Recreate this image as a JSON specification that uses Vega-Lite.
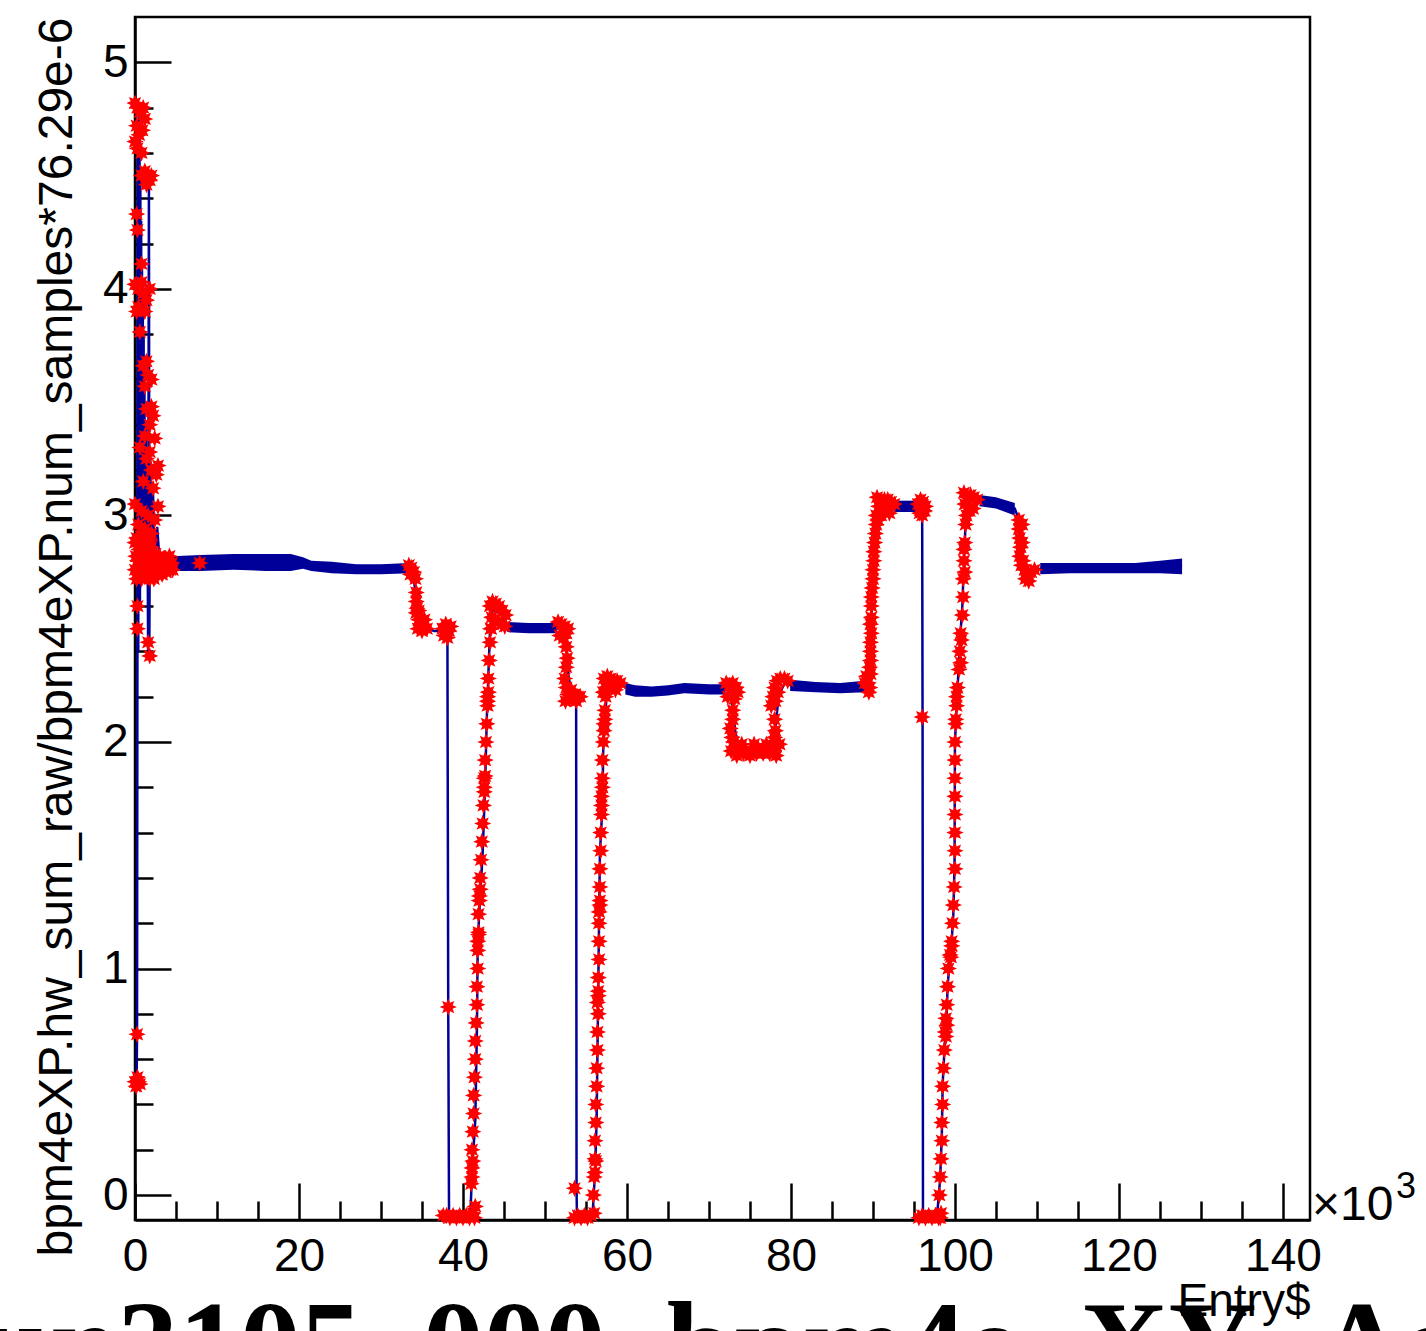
{
  "$schema": "https://vega.github.io/schema/vega-lite/v6.json",
  "width": 1175,
  "height": 1203,
  "autosize": {"type": "none"},
  "padding": {"left": 135, "top": 17, "right": 116, "bottom": 111},
  "background": "white",
  "config": {"view": {"stroke": "black", "strokeWidth": 2.5}, "font": "Liberation Sans"},
  "title": {"text": "run3105_000_bpm4e_XY_Asym", "orient": "bottom", "anchor": "start", "frame": "group", "font": "Liberation Serif", "fontSize": 122, "fontWeight": "bold", "color": "black", "baseline": "alphabetic", "offset": 62, "dx": -207},
  "datasets": {
    "band": [
      {"seg": 1, "entry": 4.5, "lo": 2.755, "hi": 2.82}, {"seg": 1, "entry": 8, "lo": 2.755, "hi": 2.825}, {"seg": 1, "entry": 12, "lo": 2.76, "hi": 2.83}, {"seg": 1, "entry": 16, "lo": 2.755, "hi": 2.83}, {"seg": 1, "entry": 19, "lo": 2.755, "hi": 2.83}, {"seg": 1, "entry": 20.5, "lo": 2.765, "hi": 2.815}, {"seg": 1, "entry": 21.5, "lo": 2.755, "hi": 2.8}, {"seg": 1, "entry": 24, "lo": 2.745, "hi": 2.795}, {"seg": 1, "entry": 27, "lo": 2.74, "hi": 2.785}, {"seg": 1, "entry": 30, "lo": 2.74, "hi": 2.785}, {"seg": 1, "entry": 33.5, "lo": 2.745, "hi": 2.79},
      {"seg": 2, "entry": 45.4, "lo": 2.485, "hi": 2.53}, {"seg": 2, "entry": 48, "lo": 2.48, "hi": 2.525}, {"seg": 2, "entry": 51.5, "lo": 2.48, "hi": 2.525},
      {"seg": 3, "entry": 59.8, "lo": 2.21, "hi": 2.26}, {"seg": 3, "entry": 61, "lo": 2.2, "hi": 2.25}, {"seg": 3, "entry": 63, "lo": 2.2, "hi": 2.245}, {"seg": 3, "entry": 65, "lo": 2.205, "hi": 2.25}, {"seg": 3, "entry": 67, "lo": 2.215, "hi": 2.26}, {"seg": 3, "entry": 70, "lo": 2.21, "hi": 2.255}, {"seg": 3, "entry": 72, "lo": 2.21, "hi": 2.255},
      {"seg": 4, "entry": 79.9, "lo": 2.225, "hi": 2.275}, {"seg": 4, "entry": 83, "lo": 2.22, "hi": 2.265}, {"seg": 4, "entry": 86, "lo": 2.215, "hi": 2.26}, {"seg": 4, "entry": 89, "lo": 2.22, "hi": 2.27},
      {"seg": 5, "entry": 92.7, "lo": 3.015, "hi": 3.065}, {"seg": 5, "entry": 95.4, "lo": 3.015, "hi": 3.065},
      {"seg": 6, "entry": 103, "lo": 3.04, "hi": 3.09}, {"seg": 6, "entry": 105, "lo": 3.03, "hi": 3.08}, {"seg": 6, "entry": 107.3, "lo": 3.0, "hi": 3.055},
      {"seg": 7, "entry": 110.4, "lo": 2.74, "hi": 2.79}, {"seg": 7, "entry": 114, "lo": 2.745, "hi": 2.79}, {"seg": 7, "entry": 118, "lo": 2.745, "hi": 2.79}, {"seg": 7, "entry": 122, "lo": 2.745, "hi": 2.79}, {"seg": 7, "entry": 125, "lo": 2.745, "hi": 2.8}, {"seg": 7, "entry": 127.7, "lo": 2.74, "hi": 2.81}
    ],
    "series": [
      {"entry": 0.0, "value": 0.5}, {"entry": 0.1, "value": 0.49}, {"entry": 0.2, "value": 0.51}, {"entry": 0.25, "value": 0.71}, {"entry": 0.3, "value": 2.6}, {"entry": 0.35, "value": 4.6}, {"entry": 0.4, "value": 2.4}, {"entry": 0.45, "value": 4.82}, {"entry": 0.5, "value": 2.9}, {"entry": 0.55, "value": 4.7}, {"entry": 0.6, "value": 2.6}, {"entry": 0.65, "value": 4.5}, {"entry": 0.7, "value": 2.8}, {"entry": 0.75, "value": 4.3}, {"entry": 0.8, "value": 2.7}, {"entry": 0.85, "value": 4.1}, {"entry": 0.9, "value": 2.9}, {"entry": 0.95, "value": 3.95}, {"entry": 1.0, "value": 2.75}, {"entry": 1.05, "value": 3.8}, {"entry": 1.1, "value": 2.8}, {"entry": 1.15, "value": 3.6}, {"entry": 1.2, "value": 2.7}, {"entry": 1.3, "value": 3.4}, {"entry": 1.4, "value": 2.8}, {"entry": 1.5, "value": 3.2}, {"entry": 1.6, "value": 2.4}, {"entry": 1.7, "value": 4.5}, {"entry": 1.75, "value": 2.45}, {"entry": 1.85, "value": 3.3}, {"entry": 2.0, "value": 2.8}, {"entry": 2.2, "value": 3.1}, {"entry": 2.4, "value": 2.78}, {"entry": 2.7, "value": 2.95}, {"entry": 3.0, "value": 2.8}, {"entry": 3.5, "value": 2.78}, {"entry": 4.0, "value": 2.8}, {"entry": 4.5, "value": 2.79},
      {"entry": 8, "value": 2.79}, {"entry": 12, "value": 2.795}, {"entry": 16, "value": 2.79}, {"entry": 20, "value": 2.79}, {"entry": 21.5, "value": 2.78}, {"entry": 23, "value": 2.77}, {"entry": 27, "value": 2.765}, {"entry": 31, "value": 2.76}, {"entry": 33.5, "value": 2.765},
      {"entry": 33.7, "value": 2.77}, {"entry": 34.0, "value": 2.72}, {"entry": 34.2, "value": 2.66}, {"entry": 34.4, "value": 2.6}, {"entry": 34.6, "value": 2.55}, {"entry": 35.0, "value": 2.52}, {"entry": 35.6, "value": 2.5}, {"entry": 36.5, "value": 2.49}, {"entry": 37.4, "value": 2.49}, {"entry": 38.1, "value": 2.5}, {"entry": 38.2, "value": 0.83}, {"entry": 38.3, "value": -0.1}, {"entry": 39, "value": -0.1}, {"entry": 40, "value": -0.1}, {"entry": 40.9, "value": -0.09},
      {"entry": 41.1, "value": 0.1}, {"entry": 41.5, "value": 0.33}, {"entry": 41.7, "value": 0.73}, {"entry": 41.8, "value": 1.12}, {"entry": 42.1, "value": 1.32}, {"entry": 42.4, "value": 1.51}, {"entry": 42.7, "value": 1.81}, {"entry": 42.9, "value": 2.1}, {"entry": 43.0, "value": 2.2}, {"entry": 43.3, "value": 2.5}, {"entry": 43.6, "value": 2.58}, {"entry": 44.5, "value": 2.57}, {"entry": 45.4, "value": 2.52},
      {"entry": 48, "value": 2.505}, {"entry": 51.5, "value": 2.5},
      {"entry": 52.0, "value": 2.51}, {"entry": 52.6, "value": 2.45}, {"entry": 52.7, "value": 2.37}, {"entry": 52.9, "value": 2.28}, {"entry": 53.3, "value": 2.22}, {"entry": 53.6, "value": 2.2}, {"entry": 53.8, "value": 2.21}, {"entry": 53.85, "value": 0.03}, {"entry": 53.9, "value": -0.1}, {"entry": 55, "value": -0.1}, {"entry": 55.8, "value": -0.09},
      {"entry": 56.1, "value": 0.1}, {"entry": 56.3, "value": 0.33}, {"entry": 56.4, "value": 0.63}, {"entry": 56.5, "value": 0.92}, {"entry": 56.6, "value": 1.22}, {"entry": 56.7, "value": 1.51}, {"entry": 57.0, "value": 1.71}, {"entry": 57.1, "value": 1.96}, {"entry": 57.3, "value": 2.1}, {"entry": 57.6, "value": 2.24}, {"entry": 58, "value": 2.27}, {"entry": 59, "value": 2.26}, {"entry": 59.8, "value": 2.24},
      {"entry": 61, "value": 2.225}, {"entry": 63, "value": 2.22}, {"entry": 65, "value": 2.225}, {"entry": 67, "value": 2.235}, {"entry": 70, "value": 2.235}, {"entry": 72, "value": 2.23},
      {"entry": 72.5, "value": 2.24}, {"entry": 72.9, "value": 2.14}, {"entry": 73.2, "value": 2.05}, {"entry": 73.6, "value": 1.98}, {"entry": 75, "value": 1.96}, {"entry": 77, "value": 1.97}, {"entry": 78, "value": 1.98}, {"entry": 78.2, "value": 2.1}, {"entry": 78.5, "value": 2.2}, {"entry": 79.2, "value": 2.26}, {"entry": 80, "value": 2.25},
      {"entry": 82, "value": 2.25}, {"entry": 85, "value": 2.24}, {"entry": 87, "value": 2.245}, {"entry": 89, "value": 2.25},
      {"entry": 89.3, "value": 2.27}, {"entry": 89.6, "value": 2.35}, {"entry": 89.7, "value": 2.42}, {"entry": 89.8, "value": 2.5}, {"entry": 89.85, "value": 2.6}, {"entry": 90.0, "value": 2.72}, {"entry": 90.2, "value": 2.85}, {"entry": 90.4, "value": 2.96}, {"entry": 90.8, "value": 3.03}, {"entry": 91.5, "value": 3.05}, {"entry": 92.7, "value": 3.04},
      {"entry": 94.0, "value": 3.04}, {"entry": 95.5, "value": 3.05}, {"entry": 96.0, "value": 3.05}, {"entry": 96.05, "value": 2.11}, {"entry": 96.1, "value": -0.1}, {"entry": 97, "value": -0.1}, {"entry": 97.8, "value": -0.1},
      {"entry": 98.2, "value": 0.075}, {"entry": 98.4, "value": 0.27}, {"entry": 98.5, "value": 0.49}, {"entry": 98.8, "value": 0.7}, {"entry": 99.0, "value": 0.81}, {"entry": 99.1, "value": 0.92}, {"entry": 99.4, "value": 1.05}, {"entry": 99.6, "value": 1.12}, {"entry": 99.8, "value": 1.24}, {"entry": 99.95, "value": 1.46}, {"entry": 100.0, "value": 2.0}, {"entry": 100.2, "value": 2.15}, {"entry": 100.6, "value": 2.44}, {"entry": 100.9, "value": 2.6}, {"entry": 101.1, "value": 2.8}, {"entry": 101.3, "value": 2.97}, {"entry": 101.7, "value": 3.06}, {"entry": 103, "value": 3.07},
      {"entry": 104, "value": 3.06}, {"entry": 105, "value": 3.055}, {"entry": 106, "value": 3.04}, {"entry": 107.3, "value": 3.03},
      {"entry": 107.8, "value": 2.98}, {"entry": 108.0, "value": 2.88}, {"entry": 108.3, "value": 2.8}, {"entry": 108.8, "value": 2.75}, {"entry": 109.5, "value": 2.755}, {"entry": 110.4, "value": 2.765},
      {"entry": 113, "value": 2.765}, {"entry": 117, "value": 2.77}, {"entry": 121, "value": 2.765}, {"entry": 124, "value": 2.77}, {"entry": 126, "value": 2.775}, {"entry": 127.7, "value": 2.78}
    ],
    "stars": [
      {"entry": 0.0, "value": 0.5}, {"entry": 0.15, "value": 0.48}, {"entry": 0.3, "value": 0.52}, {"entry": 0.45, "value": 0.5}, {"entry": 0.6, "value": 0.49}, {"entry": 0.25, "value": 0.71},
      {"entry": 0.0, "value": 4.82}, {"entry": 0.3, "value": 4.8}, {"entry": 0.6, "value": 4.78}, {"entry": 1.0, "value": 4.8}, {"entry": 0.2, "value": 4.72}, {"entry": 0.5, "value": 4.68}, {"entry": 1.2, "value": 4.75}, {"entry": 0.3, "value": 4.62}, {"entry": 0.8, "value": 4.6}, {"entry": 0.0, "value": 4.65}, {"entry": 0.9, "value": 4.7},
      {"entry": 0.8, "value": 4.5}, {"entry": 1.2, "value": 4.52}, {"entry": 1.6, "value": 4.5}, {"entry": 2.0, "value": 4.5}, {"entry": 1.4, "value": 4.46}, {"entry": 1.8, "value": 4.48},
      {"entry": 0.2, "value": 4.33}, {"entry": 0.3, "value": 4.26}, {"entry": 0.8, "value": 4.11},
      {"entry": 0.0, "value": 4.02}, {"entry": 0.4, "value": 4.0}, {"entry": 1.0, "value": 3.98}, {"entry": 1.8, "value": 4.0}, {"entry": 0.4, "value": 3.92}, {"entry": 1.4, "value": 3.95}, {"entry": 0.2, "value": 3.9}, {"entry": 0.8, "value": 4.03}, {"entry": 1.2, "value": 3.9},
      {"entry": 0.6, "value": 3.81},
      {"entry": 1.0, "value": 3.66}, {"entry": 1.6, "value": 3.62}, {"entry": 2.0, "value": 3.6}, {"entry": 1.2, "value": 3.57}, {"entry": 1.4, "value": 3.68},
      {"entry": 1.4, "value": 3.47}, {"entry": 2.2, "value": 3.44}, {"entry": 1.8, "value": 3.4}, {"entry": 1.2, "value": 3.35}, {"entry": 2.4, "value": 3.34}, {"entry": 2.0, "value": 3.48},
      {"entry": 0.6, "value": 3.3}, {"entry": 1.4, "value": 3.25}, {"entry": 2.0, "value": 3.2}, {"entry": 2.6, "value": 3.18}, {"entry": 1.0, "value": 3.15}, {"entry": 2.2, "value": 3.12}, {"entry": 1.8, "value": 3.28}, {"entry": 2.8, "value": 3.22},
      {"entry": 0.0, "value": 3.05}, {"entry": 0.8, "value": 3.02}, {"entry": 1.6, "value": 3.0}, {"entry": 2.4, "value": 2.98}, {"entry": 1.2, "value": 2.94}, {"entry": 2.0, "value": 2.92}, {"entry": 0.4, "value": 2.96}, {"entry": 2.8, "value": 3.04},
      {"entry": 0.0, "value": 2.88}, {"entry": 0.5, "value": 2.85}, {"entry": 1.0, "value": 2.88}, {"entry": 1.5, "value": 2.84}, {"entry": 2.0, "value": 2.86}, {"entry": 2.5, "value": 2.83}, {"entry": 3.0, "value": 2.82}, {"entry": 3.5, "value": 2.8}, {"entry": 4.0, "value": 2.8}, {"entry": 4.5, "value": 2.79}, {"entry": 0.0, "value": 2.76}, {"entry": 0.5, "value": 2.74}, {"entry": 1.0, "value": 2.78}, {"entry": 1.5, "value": 2.73}, {"entry": 2.0, "value": 2.76}, {"entry": 2.5, "value": 2.75}, {"entry": 3.0, "value": 2.77}, {"entry": 3.5, "value": 2.76}, {"entry": 4.0, "value": 2.78}, {"entry": 0.3, "value": 2.8}, {"entry": 1.2, "value": 2.81}, {"entry": 2.2, "value": 2.8}, {"entry": 3.2, "value": 2.79},
      {"entry": 0.2, "value": 2.9}, {"entry": 0.7, "value": 2.91}, {"entry": 1.3, "value": 2.9}, {"entry": 1.8, "value": 2.89}, {"entry": 0.2, "value": 2.72}, {"entry": 0.8, "value": 2.72}, {"entry": 1.3, "value": 2.76}, {"entry": 1.8, "value": 2.72}, {"entry": 2.3, "value": 2.72}, {"entry": 2.8, "value": 2.74}, {"entry": 3.3, "value": 2.74}, {"entry": 3.8, "value": 2.75}, {"entry": 4.3, "value": 2.76}, {"entry": 2.7, "value": 2.8}, {"entry": 3.7, "value": 2.81}, {"entry": 4.2, "value": 2.82}, {"entry": 0.7, "value": 2.8}, {"entry": 1.7, "value": 2.8}, {"entry": 0.1, "value": 2.82}, {"entry": 4.6, "value": 2.76},
      {"entry": 7.9, "value": 2.79},
      {"entry": 0.3, "value": 2.6}, {"entry": 0.3, "value": 2.5}, {"entry": 1.6, "value": 2.44}, {"entry": 1.8, "value": 2.38},
      {"entry": 33.4, "value": 2.78}, {"entry": 33.7, "value": 2.77}, {"entry": 34.0, "value": 2.75}, {"entry": 34.2, "value": 2.72}, {"entry": 34.3, "value": 2.66}, {"entry": 34.3, "value": 2.62}, {"entry": 34.4, "value": 2.59}, {"entry": 34.3, "value": 2.57}, {"entry": 34.6, "value": 2.54}, {"entry": 34.9, "value": 2.52}, {"entry": 35.2, "value": 2.51}, {"entry": 35.6, "value": 2.5}, {"entry": 34.5, "value": 2.5}, {"entry": 35.0, "value": 2.49}, {"entry": 33.6, "value": 2.74}, {"entry": 34.6, "value": 2.58}, {"entry": 35.3, "value": 2.54},
      {"entry": 37.5, "value": 2.5}, {"entry": 37.9, "value": 2.52}, {"entry": 38.3, "value": 2.49}, {"entry": 37.7, "value": 2.47}, {"entry": 38.1, "value": 2.46}, {"entry": 38.5, "value": 2.51},
      {"entry": 38.2, "value": 0.83},
      {"entry": 37.6, "value": -0.09}, {"entry": 38.0, "value": -0.09}, {"entry": 38.4, "value": -0.1}, {"entry": 38.8, "value": -0.09}, {"entry": 39.2, "value": -0.1}, {"entry": 39.6, "value": -0.09}, {"entry": 40.0, "value": -0.1}, {"entry": 40.4, "value": -0.09}, {"entry": 40.8, "value": -0.1}, {"entry": 41.2, "value": -0.08}, {"entry": 41.5, "value": -0.05}, {"entry": 41.4, "value": -0.1},
      {"entry": 41.0, "value": 0.05}, {"entry": 41.1, "value": 0.12}, {"entry": 41.1, "value": 0.2}, {"entry": 41.2, "value": 0.28}, {"entry": 41.3, "value": 0.36}, {"entry": 41.3, "value": 0.44}, {"entry": 41.4, "value": 0.52}, {"entry": 41.5, "value": 0.6}, {"entry": 41.5, "value": 0.68}, {"entry": 41.6, "value": 0.76}, {"entry": 41.7, "value": 0.84}, {"entry": 41.7, "value": 0.92}, {"entry": 41.8, "value": 1.0}, {"entry": 41.8, "value": 1.08}, {"entry": 41.9, "value": 1.16}, {"entry": 41.9, "value": 1.24}, {"entry": 42.0, "value": 1.32}, {"entry": 42.1, "value": 1.4}, {"entry": 42.2, "value": 1.48}, {"entry": 42.3, "value": 1.56}, {"entry": 42.4, "value": 1.64}, {"entry": 42.5, "value": 1.72}, {"entry": 42.6, "value": 1.8}, {"entry": 42.6, "value": 1.84}, {"entry": 42.7, "value": 1.92}, {"entry": 42.8, "value": 2.0}, {"entry": 42.9, "value": 2.08}, {"entry": 43.0, "value": 2.16}, {"entry": 43.0, "value": 2.2}, {"entry": 43.1, "value": 2.28}, {"entry": 43.2, "value": 2.36}, {"entry": 43.3, "value": 2.44}, {"entry": 43.4, "value": 2.5},
      {"entry": 43.0, "value": 2.18}, {"entry": 43.1, "value": 2.22}, {"entry": 42.7, "value": 1.85}, {"entry": 42.6, "value": 1.78}, {"entry": 42.1, "value": 1.35}, {"entry": 42.0, "value": 1.3}, {"entry": 41.9, "value": 1.15}, {"entry": 41.8, "value": 1.12}, {"entry": 41.2, "value": 0.15}, {"entry": 41.1, "value": 0.08},
      {"entry": 43.3, "value": 2.6}, {"entry": 43.6, "value": 2.62}, {"entry": 44.0, "value": 2.61}, {"entry": 44.4, "value": 2.6}, {"entry": 44.8, "value": 2.58}, {"entry": 45.2, "value": 2.56}, {"entry": 43.5, "value": 2.55}, {"entry": 43.9, "value": 2.54}, {"entry": 44.3, "value": 2.53}, {"entry": 44.7, "value": 2.52}, {"entry": 45.1, "value": 2.51}, {"entry": 43.4, "value": 2.5},
      {"entry": 51.6, "value": 2.53}, {"entry": 52.0, "value": 2.52}, {"entry": 52.4, "value": 2.51}, {"entry": 52.8, "value": 2.5}, {"entry": 51.8, "value": 2.47}, {"entry": 52.3, "value": 2.46}, {"entry": 52.6, "value": 2.48},
      {"entry": 52.6, "value": 2.42}, {"entry": 52.7, "value": 2.37}, {"entry": 52.6, "value": 2.33},
      {"entry": 52.4, "value": 2.28}, {"entry": 52.6, "value": 2.24}, {"entry": 52.8, "value": 2.21}, {"entry": 53.0, "value": 2.19}, {"entry": 53.3, "value": 2.2}, {"entry": 53.6, "value": 2.21}, {"entry": 54.0, "value": 2.2}, {"entry": 54.3, "value": 2.2}, {"entry": 52.5, "value": 2.18}, {"entry": 53.2, "value": 2.23}, {"entry": 53.8, "value": 2.18},
      {"entry": 53.6, "value": 0.03},
      {"entry": 53.6, "value": -0.1}, {"entry": 54.0, "value": -0.09}, {"entry": 54.4, "value": -0.1}, {"entry": 54.8, "value": -0.09}, {"entry": 55.2, "value": -0.1}, {"entry": 55.6, "value": -0.09}, {"entry": 56.0, "value": -0.08},
      {"entry": 55.9, "value": 0.0}, {"entry": 56.0, "value": 0.08}, {"entry": 56.1, "value": 0.16}, {"entry": 56.1, "value": 0.24}, {"entry": 56.2, "value": 0.32}, {"entry": 56.2, "value": 0.4}, {"entry": 56.3, "value": 0.48}, {"entry": 56.3, "value": 0.56}, {"entry": 56.4, "value": 0.64}, {"entry": 56.4, "value": 0.72}, {"entry": 56.5, "value": 0.8}, {"entry": 56.5, "value": 0.88}, {"entry": 56.5, "value": 0.96}, {"entry": 56.6, "value": 1.04}, {"entry": 56.6, "value": 1.12}, {"entry": 56.6, "value": 1.2}, {"entry": 56.7, "value": 1.28}, {"entry": 56.7, "value": 1.36}, {"entry": 56.7, "value": 1.44}, {"entry": 56.8, "value": 1.52}, {"entry": 56.8, "value": 1.6}, {"entry": 56.9, "value": 1.68}, {"entry": 56.9, "value": 1.76}, {"entry": 57.0, "value": 1.84}, {"entry": 57.0, "value": 1.92}, {"entry": 57.1, "value": 2.0}, {"entry": 57.2, "value": 2.08}, {"entry": 57.3, "value": 2.14}, {"entry": 57.4, "value": 2.2},
      {"entry": 56.1, "value": 0.1}, {"entry": 56.2, "value": 0.15}, {"entry": 56.7, "value": 1.3}, {"entry": 56.6, "value": 1.25}, {"entry": 56.9, "value": 1.72}, {"entry": 57.0, "value": 1.8}, {"entry": 57.2, "value": 2.05}, {"entry": 57.3, "value": 2.1}, {"entry": 56.5, "value": 0.9}, {"entry": 56.4, "value": 0.85},
      {"entry": 57.2, "value": 2.28}, {"entry": 57.6, "value": 2.29}, {"entry": 58.0, "value": 2.28}, {"entry": 58.4, "value": 2.27}, {"entry": 58.8, "value": 2.27}, {"entry": 59.2, "value": 2.26}, {"entry": 57.4, "value": 2.24}, {"entry": 57.8, "value": 2.24}, {"entry": 58.2, "value": 2.25}, {"entry": 58.6, "value": 2.23}, {"entry": 57.1, "value": 2.22},
      {"entry": 72.1, "value": 2.26}, {"entry": 72.5, "value": 2.25}, {"entry": 72.9, "value": 2.26}, {"entry": 73.3, "value": 2.24}, {"entry": 72.3, "value": 2.2}, {"entry": 72.7, "value": 2.21}, {"entry": 73.1, "value": 2.19}, {"entry": 73.5, "value": 2.22},
      {"entry": 72.9, "value": 2.14}, {"entry": 72.9, "value": 2.1},
      {"entry": 72.6, "value": 2.06}, {"entry": 72.8, "value": 2.02}, {"entry": 73.2, "value": 1.98}, {"entry": 73.8, "value": 1.97}, {"entry": 74.5, "value": 1.96}, {"entry": 75.2, "value": 1.96}, {"entry": 76.0, "value": 1.97}, {"entry": 76.8, "value": 1.97}, {"entry": 77.5, "value": 1.97}, {"entry": 78.2, "value": 1.98}, {"entry": 72.7, "value": 1.96}, {"entry": 73.4, "value": 1.94}, {"entry": 74.2, "value": 1.95}, {"entry": 75.0, "value": 1.94}, {"entry": 75.8, "value": 1.95}, {"entry": 76.6, "value": 1.95}, {"entry": 77.4, "value": 1.95}, {"entry": 78.2, "value": 1.94}, {"entry": 78.6, "value": 1.99}, {"entry": 73.0, "value": 2.0}, {"entry": 74.0, "value": 1.99}, {"entry": 75.5, "value": 1.99}, {"entry": 77.0, "value": 1.99}, {"entry": 78.0, "value": 2.02},
      {"entry": 78.0, "value": 2.1}, {"entry": 78.1, "value": 2.05},
      {"entry": 77.6, "value": 2.16}, {"entry": 77.8, "value": 2.2}, {"entry": 78.0, "value": 2.24}, {"entry": 78.3, "value": 2.27}, {"entry": 78.7, "value": 2.28}, {"entry": 79.2, "value": 2.28}, {"entry": 79.6, "value": 2.27}, {"entry": 78.4, "value": 2.22}, {"entry": 78.1, "value": 2.18},
      {"entry": 89.0, "value": 2.26}, {"entry": 89.4, "value": 2.26}, {"entry": 89.6, "value": 2.24}, {"entry": 89.2, "value": 2.29}, {"entry": 89.7, "value": 2.3}, {"entry": 89.5, "value": 2.22},
      {"entry": 89.6, "value": 2.33}, {"entry": 89.7, "value": 2.36}, {"entry": 89.7, "value": 2.4}, {"entry": 89.7, "value": 2.44}, {"entry": 89.8, "value": 2.48}, {"entry": 89.7, "value": 2.52}, {"entry": 89.8, "value": 2.55}, {"entry": 89.8, "value": 2.6}, {"entry": 89.8, "value": 2.64}, {"entry": 89.9, "value": 2.68}, {"entry": 90.0, "value": 2.72}, {"entry": 90.0, "value": 2.76}, {"entry": 90.1, "value": 2.8}, {"entry": 90.1, "value": 2.84}, {"entry": 90.2, "value": 2.88}, {"entry": 90.3, "value": 2.92}, {"entry": 90.4, "value": 2.96},
      {"entry": 90.4, "value": 3.0}, {"entry": 90.7, "value": 3.04}, {"entry": 91.0, "value": 3.06}, {"entry": 91.4, "value": 3.07}, {"entry": 91.8, "value": 3.07}, {"entry": 92.2, "value": 3.06}, {"entry": 92.6, "value": 3.05}, {"entry": 90.6, "value": 2.98}, {"entry": 91.0, "value": 3.0}, {"entry": 91.5, "value": 3.02}, {"entry": 92.0, "value": 3.01}, {"entry": 90.5, "value": 3.08},
      {"entry": 95.5, "value": 3.05}, {"entry": 95.8, "value": 3.07}, {"entry": 96.1, "value": 3.06}, {"entry": 96.4, "value": 3.04}, {"entry": 95.7, "value": 3.01}, {"entry": 96.0, "value": 3.0}, {"entry": 96.3, "value": 3.02},
      {"entry": 96.0, "value": 2.11},
      {"entry": 95.6, "value": -0.1}, {"entry": 96.0, "value": -0.09}, {"entry": 96.4, "value": -0.1}, {"entry": 96.8, "value": -0.09}, {"entry": 97.2, "value": -0.1}, {"entry": 97.6, "value": -0.09}, {"entry": 98.0, "value": -0.1}, {"entry": 98.3, "value": -0.08}, {"entry": 98.2, "value": -0.1},
      {"entry": 98.1, "value": 0.0}, {"entry": 98.2, "value": 0.08}, {"entry": 98.3, "value": 0.16}, {"entry": 98.4, "value": 0.24}, {"entry": 98.4, "value": 0.32}, {"entry": 98.5, "value": 0.4}, {"entry": 98.5, "value": 0.48}, {"entry": 98.6, "value": 0.56}, {"entry": 98.7, "value": 0.64}, {"entry": 98.8, "value": 0.72}, {"entry": 98.9, "value": 0.78}, {"entry": 99.0, "value": 0.84}, {"entry": 99.1, "value": 0.92}, {"entry": 99.2, "value": 1.0}, {"entry": 99.4, "value": 1.06}, {"entry": 99.6, "value": 1.12}, {"entry": 99.7, "value": 1.2}, {"entry": 99.8, "value": 1.28}, {"entry": 99.9, "value": 1.36}, {"entry": 100.0, "value": 1.44}, {"entry": 100.0, "value": 1.52}, {"entry": 100.0, "value": 1.6}, {"entry": 100.0, "value": 1.68}, {"entry": 100.0, "value": 1.76}, {"entry": 100.0, "value": 1.84}, {"entry": 100.0, "value": 1.92}, {"entry": 100.0, "value": 2.0}, {"entry": 100.1, "value": 2.08}, {"entry": 100.2, "value": 2.16}, {"entry": 100.3, "value": 2.24}, {"entry": 100.5, "value": 2.32}, {"entry": 100.6, "value": 2.4}, {"entry": 100.7, "value": 2.48}, {"entry": 100.9, "value": 2.56}, {"entry": 101.0, "value": 2.64}, {"entry": 101.0, "value": 2.72}, {"entry": 101.1, "value": 2.8}, {"entry": 101.2, "value": 2.88}, {"entry": 101.3, "value": 2.96},
      {"entry": 98.9, "value": 0.7}, {"entry": 99.0, "value": 0.75}, {"entry": 99.5, "value": 1.05}, {"entry": 99.6, "value": 1.1}, {"entry": 100.1, "value": 2.1}, {"entry": 100.2, "value": 2.2}, {"entry": 100.7, "value": 2.35}, {"entry": 100.8, "value": 2.45}, {"entry": 101.2, "value": 2.75}, {"entry": 101.1, "value": 2.85},
      {"entry": 101.2, "value": 3.05}, {"entry": 101.5, "value": 3.08}, {"entry": 101.9, "value": 3.09}, {"entry": 102.3, "value": 3.08}, {"entry": 102.7, "value": 3.07}, {"entry": 101.4, "value": 3.0}, {"entry": 101.8, "value": 3.02}, {"entry": 102.2, "value": 3.03}, {"entry": 101.1, "value": 3.1},
      {"entry": 107.8, "value": 2.98}, {"entry": 107.8, "value": 2.94}, {"entry": 107.9, "value": 2.9}, {"entry": 108.0, "value": 2.86}, {"entry": 107.9, "value": 2.82}, {"entry": 108.1, "value": 2.78}, {"entry": 108.5, "value": 2.76}, {"entry": 108.9, "value": 2.74}, {"entry": 109.3, "value": 2.75}, {"entry": 109.7, "value": 2.76}, {"entry": 108.3, "value": 2.8}, {"entry": 108.6, "value": 2.72}, {"entry": 109.0, "value": 2.71}, {"entry": 108.2, "value": 2.96}, {"entry": 108.2, "value": 2.88}
    ]
  },
  "layer": [
    {
      "data": {"name": "band"},
      "mark": {"type": "area", "color": "#000099", "opacity": 1},
      "encoding": {
        "x": {"field": "entry", "type": "quantitative", "scale": {"domain": [0, 143.3], "nice": false, "zero": false},
          "axis": {"title": "Entry$", "orient": "bottom", "values": [0, 20, 40, 60, 80, 100, 120, 140], "ticks": false, "grid": false, "domainColor": "black", "domainWidth": 2.5, "labelFontSize": 46, "labelColor": "black", "labelPadding": 14, "labelFlush": false, "labelOverlap": false, "labelFont": "Liberation Sans", "titleFont": "Liberation Sans", "titleFontSize": 46, "titleFontWeight": "normal", "titleColor": "black", "titleAnchor": "end", "titlePadding": 0}},
        "y": {"field": "lo", "type": "quantitative", "scale": {"domain": [-0.11, 5.2], "nice": false, "zero": false},
          "axis": {"title": "bpm4eXP.hw_sum_raw/bpm4eXP.num_samples*76.29e-6", "orient": "left", "values": [0, 1, 2, 3, 4, 5], "ticks": false, "grid": false, "domainColor": "black", "domainWidth": 2.5, "labelFontSize": 46, "labelColor": "black", "labelPadding": 7, "labelFlush": false, "labelOverlap": false, "labelFont": "Liberation Sans", "titleFont": "Liberation Sans", "titleFontSize": 48, "titleFontWeight": "normal", "titleColor": "black", "titleAnchor": "end", "titlePadding": 21}},
        "y2": {"field": "hi"},
        "detail": {"field": "seg", "type": "nominal"}
      }
    },
    {
      "data": {"name": "series"},
      "mark": {"type": "line", "color": "#000099", "strokeWidth": 2.5, "interpolate": "linear"},
      "encoding": {
        "x": {"field": "entry", "type": "quantitative", "scale": {"domain": [0, 143.3], "nice": false, "zero": false},
          "axis": {"orient": "bottom", "title": null, "values": [0, 20, 40, 60, 80, 100, 120, 140], "labels": false, "domain": false, "grid": false, "tickSize": -37, "tickWidth": 2.5, "tickColor": "black"}},
        "y": {"field": "value", "type": "quantitative", "scale": {"domain": [-0.11, 5.2], "nice": false, "zero": false},
          "axis": {"orient": "left", "title": null, "values": [0, 1, 2, 3, 4, 5], "labels": false, "domain": false, "grid": false, "tickSize": -36, "tickWidth": 2.5, "tickColor": "black"}},
        "order": {"value": null}
      }
    },
    {
      "data": {"name": "stars"},
      "mark": {"type": "point", "shape": "M1,0L0.5,0.21L0.71,0.71L0.21,0.5L0,1L-0.21,0.5L-0.71,0.71L-0.5,0.21L-1,0L-0.5,-0.21L-0.71,-0.71L-0.21,-0.5L0,-1L0.21,-0.5L0.71,-0.71L0.5,-0.21Z", "filled": true, "color": "#ff0000", "opacity": 1, "size": 300, "strokeWidth": 0},
      "encoding": {
        "x": {"field": "entry", "type": "quantitative", "scale": {"domain": [0, 143.3], "nice": false, "zero": false},
          "axis": {"orient": "bottom", "title": null, "values": [5, 10, 15, 25, 30, 35, 45, 50, 55, 65, 70, 75, 85, 90, 95, 105, 110, 115, 125, 130, 135], "labels": false, "domain": false, "grid": false, "tickSize": -19, "tickWidth": 2.5, "tickColor": "black"}},
        "y": {"field": "value", "type": "quantitative", "scale": {"domain": [-0.11, 5.2], "nice": false, "zero": false},
          "axis": {"orient": "left", "title": null, "values": [0.2, 0.4, 0.6, 0.8, 1.2, 1.4, 1.6, 1.8, 2.2, 2.4, 2.6, 2.8, 3.2, 3.4, 3.6, 3.8, 4.2, 4.4, 4.6, 4.8], "labels": false, "domain": false, "grid": false, "tickSize": -18, "tickWidth": 2.5, "tickColor": "black"}}
      }
    },
    {
      "data": {"values": [{}]},
      "mark": {"type": "text", "text": "×10", "align": "left", "baseline": "alphabetic", "dx": 2, "fontSize": 48, "font": "Liberation Sans", "color": "black"},
      "encoding": {
        "x": {"datum": 143.3, "type": "quantitative", "axis": null},
        "y": {"datum": -0.11, "type": "quantitative", "axis": null}
      }
    },
    {
      "data": {"values": [{}]},
      "mark": {"type": "text", "text": "3", "align": "left", "baseline": "alphabetic", "dx": 86, "dy": -22, "fontSize": 36, "font": "Liberation Sans", "color": "black"},
      "encoding": {
        "x": {"datum": 143.3, "type": "quantitative", "axis": null},
        "y": {"datum": -0.11, "type": "quantitative", "axis": null}
      }
    }
  ],
  "resolve": {"axis": {"x": "independent", "y": "independent"}}
}
